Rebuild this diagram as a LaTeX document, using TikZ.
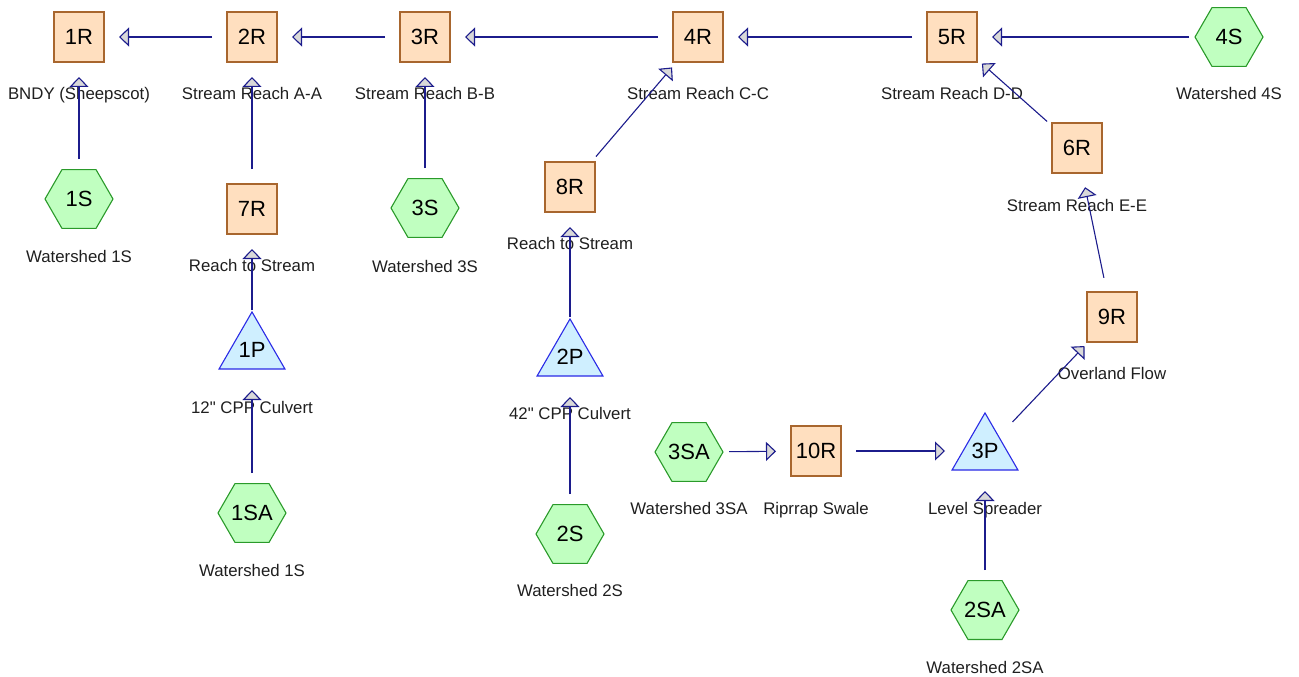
\documentclass[tikz,border=0pt]{standalone}
\usepackage{fontspec}
\setmainfont{Liberation Sans}[Ligatures=TeXOff]
\usetikzlibrary{shapes.geometric,arrows.meta}
\definecolor{reachfill}{HTML}{FFDFBF}
\definecolor{reachline}{HTML}{A8662E}
\definecolor{shedfill}{HTML}{C0FFC0}
\definecolor{shedline}{HTML}{2A9A2A}
\definecolor{pondfill}{HTML}{CFEFFF}
\definecolor{pondline}{HTML}{2A2AE6}
\definecolor{flowline}{HTML}{1C1C8C}
\definecolor{headfill}{HTML}{D9D9D9}
\begin{document}
\begin{tikzpicture}[x=1pt,y=-1pt,
  idfont/.style={font=\fontsize{22}{24}\selectfont},
  reach/.style={idfont,draw=reachline,fill=reachfill,line width=1.1pt,
    minimum size=50pt,inner sep=0pt},
  shed/.style={idfont,regular polygon,regular polygon sides=6,draw=shedline,
    fill=shedfill,line width=1.1pt,minimum size=68pt,inner sep=0pt},
  pond/.style={idfont,regular polygon,regular polygon sides=3,draw=pondline,
    fill=pondfill,line width=1.1pt,minimum size=76pt,inner sep=0pt},
  tag/.style={font=\fontsize{16.8}{18}\selectfont,text=black!88,inner sep=0pt,anchor=base},
  flow/.style={draw=flowline,line width=1.1pt,shorten <=40pt,shorten >=40pt,
    -{Triangle[length=10pt,width=19pt,fill=headfill]}}
]
\useasboundingbox (0,0) rectangle (1299,677);

% reaches
\node[reach] (n1R)  at (79,37)    {1R};
\node[reach] (n2R)  at (252,37)   {2R};
\node[reach] (n3R)  at (425,37)   {3R};
\node[reach] (n4R)  at (698,37)   {4R};
\node[reach] (n5R)  at (952,37)   {5R};
\node[reach] (n6R)  at (1077,148) {6R};
\node[reach] (n7R)  at (252,209)  {7R};
\node[reach] (n8R)  at (570,187)  {8R};
\node[reach] (n9R)  at (1112,317) {9R};
\node[reach] (n10R) at (816,451)  {10R};
% subcatchments
\node[shed] (n4S)  at (1229,37)  {4S};
\node[shed] (n1S)  at (79,199)   {1S};
\node[shed] (n3S)  at (425,208)  {3S};
\node[shed] (n3SA) at (689,452)  {3SA};
\node[shed] (n1SA) at (252,513)  {1SA};
\node[shed] (n2S)  at (570,534)  {2S};
\node[shed] (n2SA) at (985,610)  {2SA};
% ponds
\node[pond] (n1P) at (252,350) {1P};
\node[pond] (n2P) at (570,357) {2P};
\node[pond] (n3P) at (985,451) {3P};

% descriptions
\node[tag] (t1R)  at (79,99.5)   {BNDY (Sheepscot)};
\node[tag] (t2R)  at (252,99.5)  {Stream Reach A-A};
\node[tag] (t3R)  at (425,99.5)  {Stream Reach B-B};
\node[tag] (t4R)  at (698,99.5)  {Stream Reach C-C};
\node[tag] (t5R)  at (952,99.5)  {Stream Reach D-D};
\node[tag] (t4S)  at (1229,99.5) {Watershed 4S};
\node[tag] (t6R)  at (1077,211)  {Stream Reach E-E};
\node[tag] (t1S)  at (79,262.5)  {Watershed 1S};
\node[tag] (t7R)  at (252,271.5) {Reach to Stream};
\node[tag] (t3S)  at (425,272)   {Watershed 3S};
\node[tag] (t8R)  at (570,249)   {Reach to Stream};
\node[tag] (t9R)  at (1112,379)  {Overland Flow};
\node[tag] (t1P)  at (252,413.3) {12" CPP Culvert};
\node[tag] (t2P)  at (570,419)   {42" CPP Culvert};
\node[tag] (t3SA) at (689,514)   {Watershed 3SA};
\node[tag] (t10R) at (816,514)   {Riprrap Swale};
\node[tag] (t3P)  at (985,514.3) {Level Spreader};
\node[tag] (t1SA) at (252,576)   {Watershed 1S};
\node[tag] (t2S)  at (570,596)   {Watershed 2S};
\node[tag] (t2SA) at (985,673.3) {Watershed 2SA};

% routing
\draw[flow] (n2R.center)  -- (n1R.center);
\draw[flow] (n3R.center)  -- (n2R.center);
\draw[flow] (n4R.center)  -- (n3R.center);
\draw[flow] (n5R.center)  -- (n4R.center);
\draw[flow] (n4S.center)  -- (n5R.center);
\draw[flow] (n6R.center)  -- (n5R.center);
\draw[flow] (n1S.center)  -- (n1R.center);
\draw[flow] (n7R.center)  -- (n2R.center);
\draw[flow] (n3S.center)  -- (n3R.center);
\draw[flow] (n8R.center)  -- (n4R.center);
\draw[flow] (n1P.center)  -- (n7R.center);
\draw[flow] (n2P.center)  -- (n8R.center);
\draw[flow] (n1SA.center) -- (n1P.center);
\draw[flow] (n2S.center)  -- (n2P.center);
\draw[flow] (n9R.center)  -- (n6R.center);
\draw[flow] (n3P.center)  -- (n9R.center);
\draw[flow] (n3SA.center) -- (n10R.center);
\draw[flow] (n10R.center) -- (n3P.center);
\draw[flow] (n2SA.center) -- (n3P.center);
\end{tikzpicture}
\end{document}
